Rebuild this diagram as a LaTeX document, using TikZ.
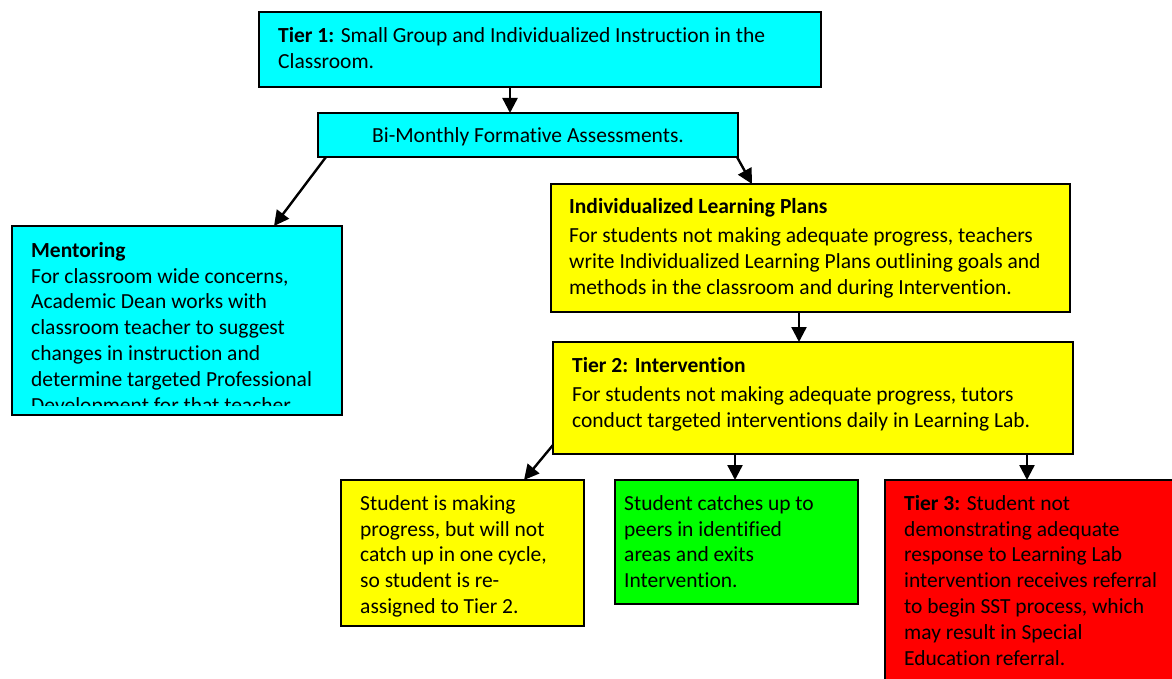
\documentclass[tikz,border=0pt]{standalone}
\usepackage{fontspec}
\setmainfont{Carlito}[RawFeature={-liga}]
\usetikzlibrary{arrows.meta}
\definecolor{cyanbox}{RGB}{0,255,255}
\definecolor{yellowbox}{RGB}{255,255,0}
\definecolor{greenbox}{RGB}{0,255,0}
\definecolor{redbox}{RGB}{255,0,0}
\newcommand{\boxfont}{\fontsize{21.5}{25.8}\selectfont}
\tikzset{
  flowbox/.style={draw=black, line width=2pt, rectangle, inner sep=0pt, outer sep=0pt, anchor=north west},
  boxtext/.style={inner sep=0pt, anchor=north west, align=left, font=\boxfont},
  arr/.style={line width=2.4pt, -{Triangle[length=15pt,width=15pt]}}
}
\begin{document}
\begin{tikzpicture}[x=1pt,y=-1pt]
\clip (0,0) rectangle (1172,679);
\fill[white] (0,0) rectangle (1172,679);
% boxes
\node[flowbox, fill=cyanbox, minimum width=562pt, minimum height=75pt] (t1) at (259,12) {};
\node[flowbox, fill=cyanbox, minimum width=420pt, minimum height=44pt] (bi) at (318,113) {};
\node[flowbox, fill=cyanbox, minimum width=330pt, minimum height=189pt] (ment) at (12,226) {};
\node[flowbox, fill=yellowbox, minimum width=519pt, minimum height=128pt] (ilp) at (551,184) {};
\node[flowbox, fill=yellowbox, minimum width=520pt, minimum height=112pt] (t2) at (553,342) {};
\node[flowbox, fill=yellowbox, minimum width=243pt, minimum height=146pt] (prog) at (341,480) {};
\node[flowbox, fill=greenbox, minimum width=243pt, minimum height=124pt] (exit) at (615,480) {};
\node[flowbox, fill=redbox, minimum width=300pt, minimum height=215pt] (t3) at (885,480) {};
% texts (north = baseline - 18.06)
\node[boxtext] (t1txt) at (278,24.2) {\strut\textbf{Tier 1:} Small Group and Individualized Instruction in the\\Classroom.};
\node[font=\boxfont, inner sep=0pt, anchor=base] (bitxt) at (528,143) {Bi-Monthly Formative Assessments.};
\begin{scope}
\clip (ment.north west) rectangle ([yshift=10pt]ment.south east);
\node[boxtext] (menttxt) at (31,239) {\strut\textbf{Mentoring}\\For classroom wide concerns,\\Academic Dean works with\\classroom teacher to suggest\\changes in instruction and\\determine targeted Professional\\Development for that teacher.};
\end{scope}
\node[boxtext] (ilptxt) at (569,195) {\strut\textbf{Individualized Learning Plans}\\[3.5pt]For students not making adequate progress, teachers\\write Individualized Learning Plans outlining goals and\\methods in the classroom and during Intervention.};
\node[boxtext] (t2txt) at (572,354) {\strut\textbf{Tier 2: Intervention}\\[3.5pt]For students not making adequate progress, tutors\\conduct targeted interventions daily in Learning Lab.};
\begin{scope}
\clip (prog.north west) rectangle ([yshift=10pt]prog.south east);
\node[boxtext] (progtxt) at (360,492) {\strut Student is making\\progress, but will not\\catch up in one cycle,\\so student is re-\\assigned to Tier 2.};
\end{scope}
\node[boxtext] (exittxt) at (624,492) {\strut Student catches up to\\peers in identified\\areas and exits\\Intervention.};
\node[boxtext] (t3txt) at (904,492) {\strut\textbf{Tier 3:} Student not\\demonstrating adequate\\response to Learning Lab\\intervention receives referral\\to begin SST process, which\\may result in Special\\Education referral.};
% connectors
\draw[arr] (510,0 |- t1.south) -- (510,0 |- bi.north);
\draw[arr] ([xshift=8pt]bi.south west) -- (274,0 |- ment.north);
\draw[arr] ([xshift=-1pt]bi.south east) -- (752,0 |- ilp.north);
\draw[arr] (799,0 |- ilp.south) -- (799,0 |- t2.north);
\draw[arr] ([yshift=9pt]t2.south west) -- (524,0 |- prog.north);
\draw[arr] (735,0 |- t2.south) -- (735,0 |- exit.north);
\draw[arr] (1027,0 |- t2.south) -- (1027,0 |- t3.north);
\end{tikzpicture}
\end{document}
